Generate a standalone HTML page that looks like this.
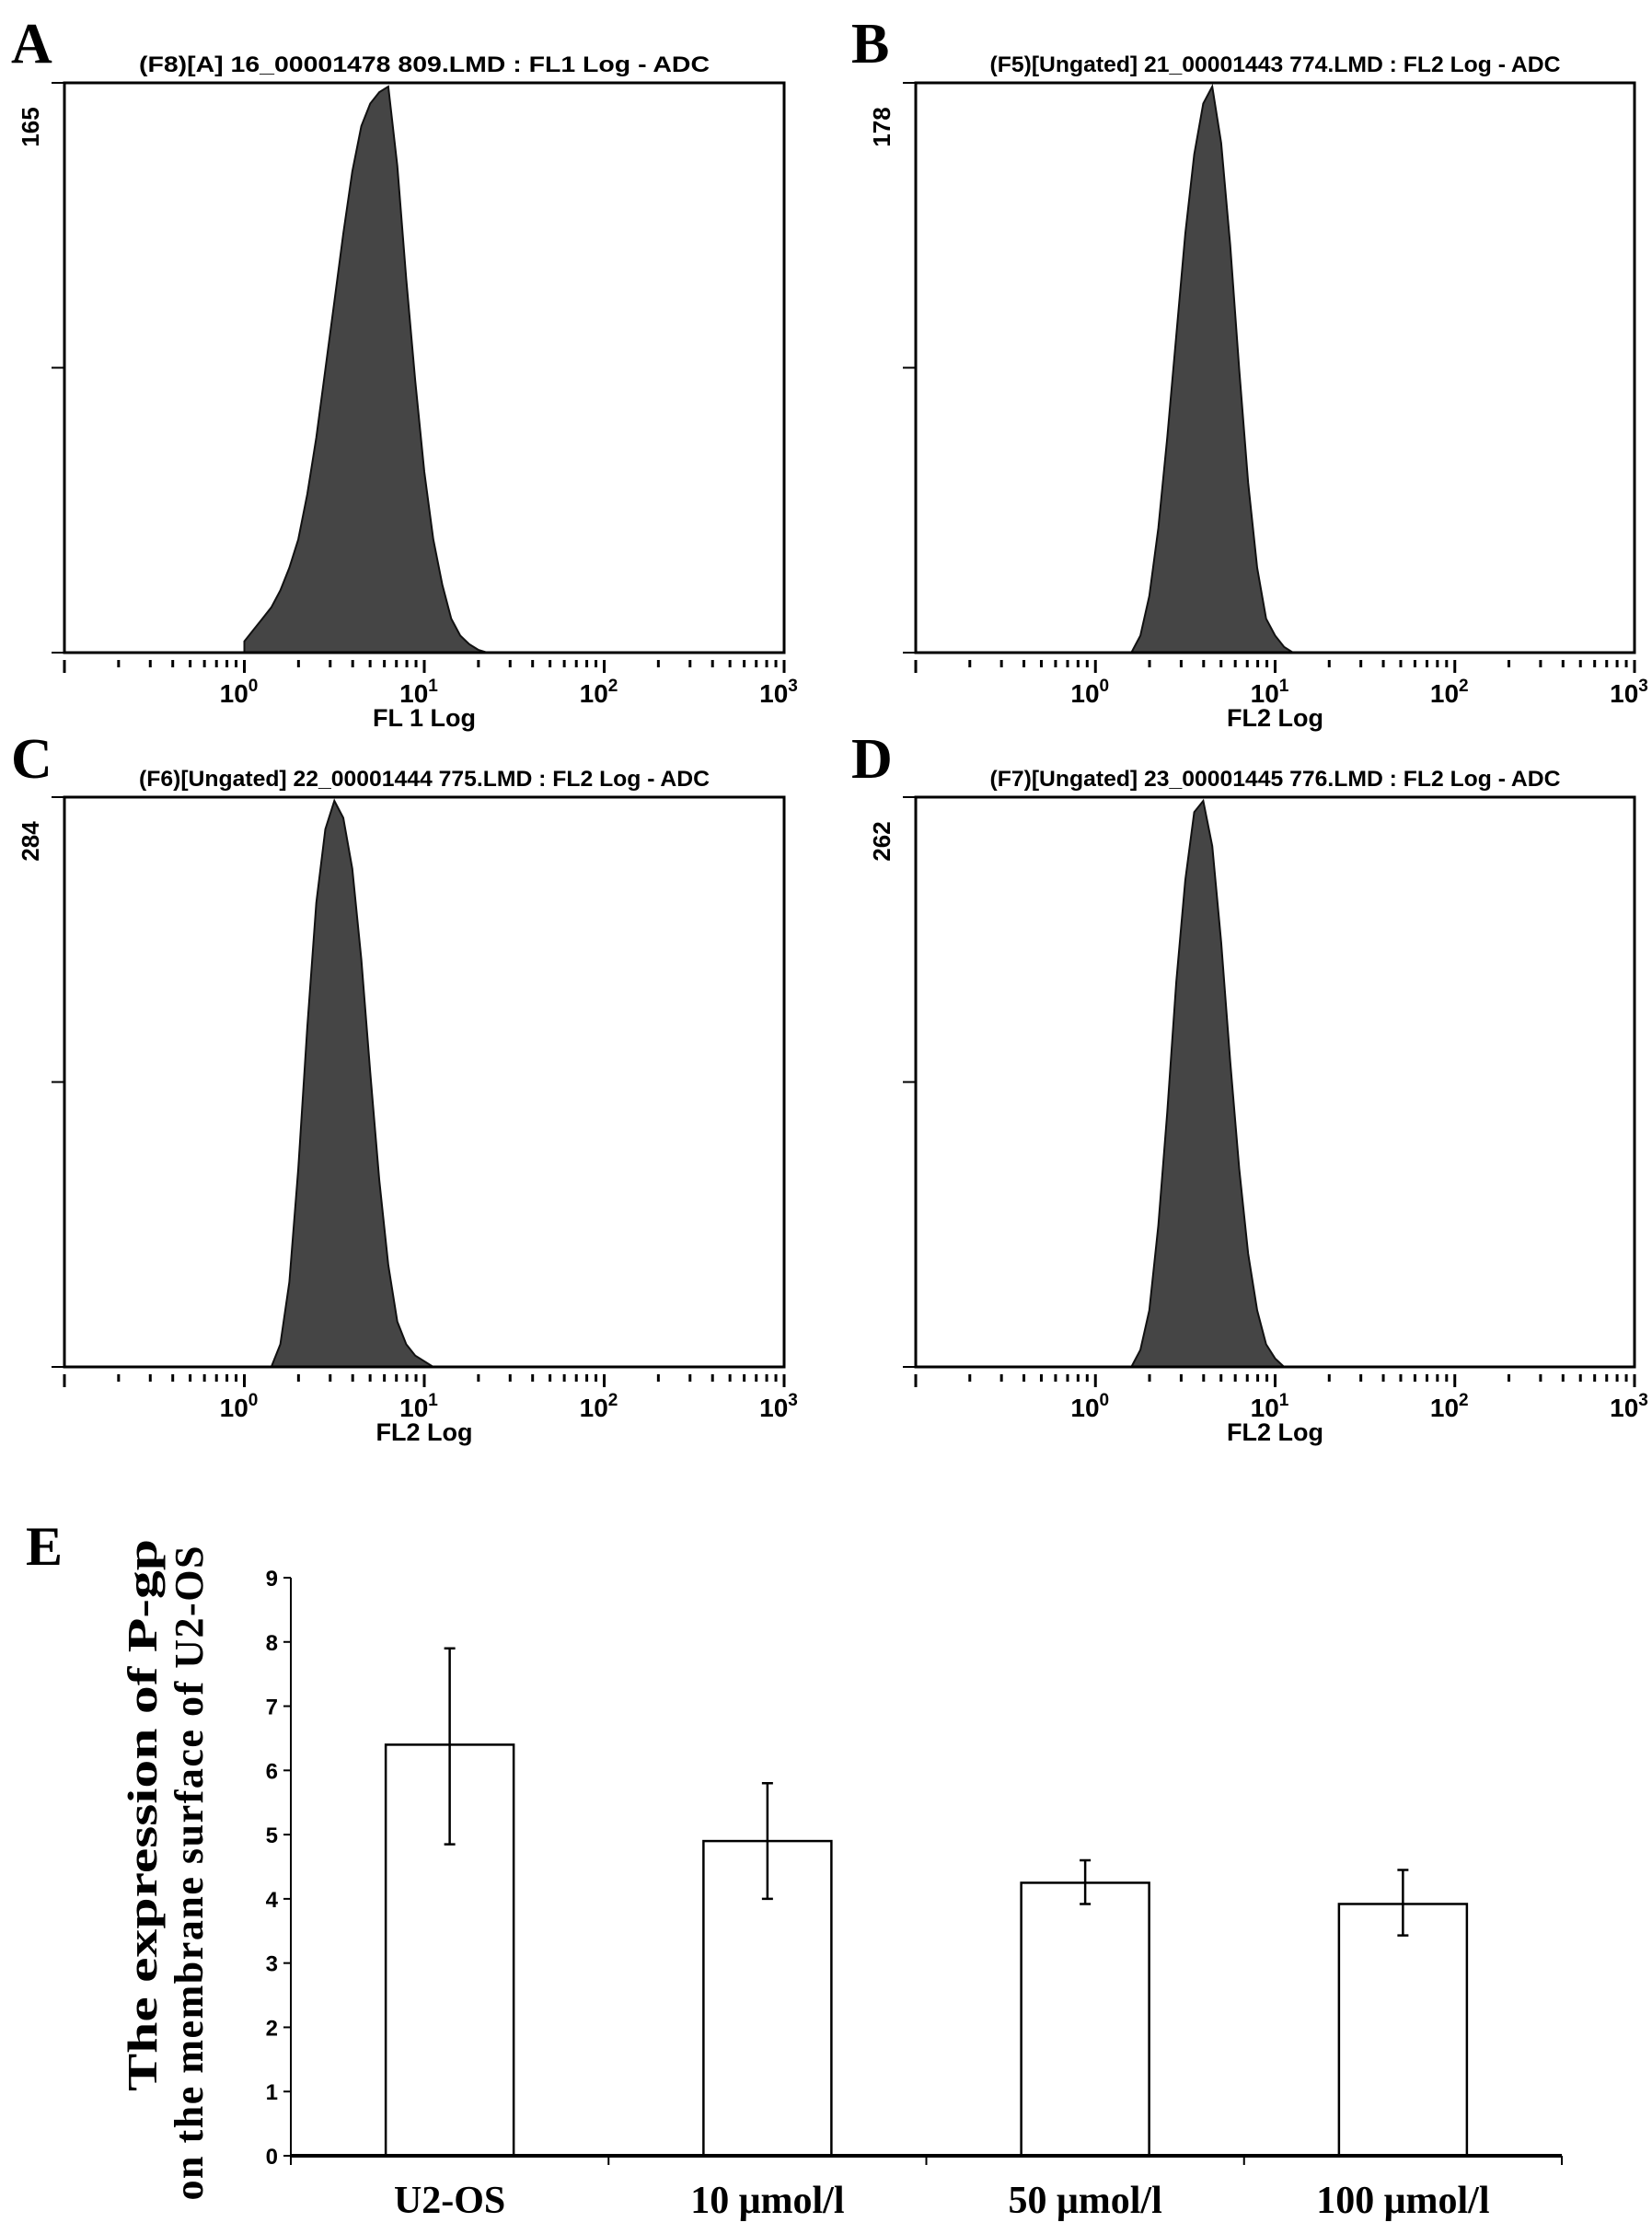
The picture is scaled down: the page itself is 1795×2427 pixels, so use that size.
<!DOCTYPE html>
<html><head><meta charset="utf-8"><style>
html,body{margin:0;padding:0;background:#fff}
svg{display:block}
text{font-family:"Liberation Sans",Arial,sans-serif}
.ser{font-family:"Liberation Serif","Times New Roman",serif;font-weight:bold}
</style></head><body>
<svg id="fig" width="1795" height="2427" viewBox="0 0 1795 2427" xmlns="http://www.w3.org/2000/svg"></svg>
<script>
// ---- histogram data (log10 fluorescence bin, relative count) ----
const histALog=[0,0.05,0.1,0.15,0.2,0.25,0.3,0.35,0.4,0.45,0.5,0.55,0.6,0.65,0.7,0.75,0.8,0.85,0.9,0.95,1.0,1.05,1.1,1.15,1.2,1.25,1.3,1.35];
const histAVal=[0.02,0.04,0.06,0.08,0.11,0.15,0.2,0.28,0.38,0.5,0.62,0.74,0.85,0.93,0.97,0.99,1.0,0.86,0.66,0.48,0.32,0.2,0.12,0.06,0.03,0.015,0.005,0];
const histBLog=[0.2,0.25,0.3,0.35,0.4,0.45,0.5,0.55,0.6,0.65,0.7,0.75,0.8,0.85,0.9,0.95,1.0,1.05,1.1];
const histBVal=[0,0.03,0.1,0.22,0.38,0.56,0.74,0.88,0.97,1.0,0.9,0.72,0.5,0.3,0.15,0.06,0.03,0.01,0];
const histCLog=[0.15,0.2,0.25,0.3,0.35,0.4,0.45,0.5,0.55,0.6,0.65,0.7,0.75,0.8,0.85,0.9,0.95,1.0,1.05];
const histCVal=[0,0.04,0.15,0.35,0.6,0.82,0.95,1.0,0.97,0.88,0.72,0.52,0.33,0.18,0.08,0.04,0.02,0.01,0];
const histDLog=[0.2,0.25,0.3,0.35,0.4,0.45,0.5,0.55,0.6,0.65,0.7,0.75,0.8,0.85,0.9,0.95,1.0,1.05];
const histDVal=[0,0.03,0.1,0.25,0.45,0.68,0.86,0.98,1.0,0.92,0.75,0.54,0.35,0.2,0.1,0.04,0.015,0];
const histMaxLabels=["165","178","284","262"];
const histTitles=["(F8)[A] 16_00001478 809.LMD : FL1 Log - ADC","(F5)[Ungated] 21_00001443 774.LMD : FL2 Log - ADC","(F6)[Ungated] 22_00001444 775.LMD : FL2 Log - ADC","(F7)[Ungated] 23_00001445 776.LMD : FL2 Log - ADC"];
const histXTitles=["FL 1 Log","FL2 Log","FL2 Log","FL2 Log"];
const decadeLabels=["0","1","2","3"];
// ---- bar chart data ----
const barCats=["U2-OS","10 μmol/l","50 μmol/l","100 μmol/l"];
const barVals=[6.4,4.9,4.25,3.92];
const barErrLo=[4.85,4.0,3.92,3.43];
const barErrHi=[7.9,5.8,4.6,4.45];
const barTicks=[0,1,2,3,4,5,6,7,8,9];

const NS="http://www.w3.org/2000/svg";
const svg=document.getElementById('fig');
function mk(tag,attrs,parent){const e=document.createElementNS(NS,tag);for(const k in attrs)e.setAttribute(k,attrs[k]);(parent||svg).appendChild(e);return e;}

const panels=[
 {letter:"A",L:70,R:852,T:90,B:709,lx:12,ly:68,logs:histALog,vals:histAVal},
 {letter:"B",L:995,R:1776,T:90,B:709,lx:925,ly:68,logs:histBLog,vals:histBVal},
 {letter:"C",L:70,R:852,T:866,B:1485,lx:12,ly:845,logs:histCLog,vals:histCVal},
 {letter:"D",L:995,R:1776,T:866,B:1485,lx:925,ly:845,logs:histDLog,vals:histDVal}
];
panels.forEach((p,i)=>{
  const g=mk('g',{});
  
  
  const xs=v=>p.L+(v+1)/4*(p.R-p.L);
  const ys=v=>p.B-v*(p.B-p.T-4);
  const lt=mk('text',{x:p.lx,y:p.ly,'font-size':62,'class':'ser'},g);lt.textContent=p.letter;
  
  
  const tt=mk('text',{x:(p.L+p.R)/2,y:p.T-12,'font-size':24,'font-weight':'bold','text-anchor':'middle',textLength:620,lengthAdjust:'spacingAndGlyphs'},g);tt.textContent=histTitles[i];
  
  
  let d='M'+xs(p.logs[0])+','+p.B;
  p.logs.forEach((l,j)=>{d+=' L'+xs(l).toFixed(1)+','+ys(p.vals[j]).toFixed(1);});
  d+=' L'+xs(p.logs[p.logs.length-1])+','+p.B+' Z';
  const hp=mk('path',{d:d,fill:'#454545',stroke:'#111','stroke-width':2},g);
  
  
  const box=mk('rect',{x:p.L,y:p.T,width:p.R-p.L,height:p.B-p.T,fill:'none',stroke:'#000','stroke-width':3},g);
  
  
  [0,0.5,1].forEach(f=>{mk('line',{x1:p.L-14,x2:p.L,y1:p.B-f*(p.B-p.T),y2:p.B-f*(p.B-p.T),stroke:'#000','stroke-width':2},g);});
  const yl=mk('text',{transform:`translate(${p.L-28},${p.T+48}) rotate(-90)`,'font-size':26,'font-weight':'bold','text-anchor':'middle'},g);yl.textContent=histMaxLabels[i];
  
  
  for(let dec=-1;dec<3;dec++){for(let m=1;m<10;m++){const x=xs(dec+Math.log10(m));mk('line',{x1:x,x2:x,y1:p.B+8,y2:p.B+(m==1?22:16),stroke:'#000','stroke-width':3},g);}}
  mk('line',{x1:p.R,x2:p.R,y1:p.B+8,y2:p.B+22,stroke:'#000','stroke-width':3},g);
  decadeLabels.forEach((s,k)=>{const x=xs(k);const t=mk('text',{x:x-6,y:p.B+54,'font-size':28,'font-weight':'bold','text-anchor':'middle'},g);t.textContent='10';const s2=mk('tspan',{dy:-12,'font-size':19},t);s2.textContent=s;
    
    });
  const xt=mk('text',{x:xs(1),y:p.B+80,'font-size':27,'font-weight':'bold','text-anchor':'middle'},g);xt.textContent=histXTitles[i];
  
  
});

// ---- bar chart E ----
const E={L:316,R:1697,T:1714,B:2342};
const ge=mk('g',{});


const eL=mk('text',{x:28,y:1700,'font-size':60,'class':'ser'},ge);eL.textContent='E';


const yv=v=>E.B-v/9*(E.B-E.T);
const band=(E.R-E.L)/barCats.length;
const xc=i=>E.L+band*(i+0.5);
mk('line',{x1:E.L,x2:E.L,y1:E.T,y2:E.B,stroke:'#000','stroke-width':2},ge);
barTicks.forEach(t=>{mk('line',{x1:E.L-8,x2:E.L,y1:yv(t),y2:yv(t),stroke:'#000','stroke-width':2},ge);
  const tx=mk('text',{x:E.L-14,y:yv(t)+9,'font-size':24,'font-weight':'bold','text-anchor':'end'},ge);tx.textContent=t;
  
  });
barVals.forEach((v,i)=>{
  const w=139;
  const r=mk('rect',{x:xc(i)-w/2,y:yv(v),width:w,height:E.B-yv(v),fill:'#fff',stroke:'#000','stroke-width':2.5},ge);
  
  
  const eb=mk('path',{d:`M${xc(i)},${yv(barErrLo[i])}V${yv(barErrHi[i])}M${xc(i)-6},${yv(barErrLo[i])}h12M${xc(i)-6},${yv(barErrHi[i])}h12`,stroke:'#000','stroke-width':2.5,fill:'none'},ge);
  
  
  const lb=mk('text',{x:xc(i),y:2404,'font-size':42,'class':'ser','text-anchor':'middle'},ge);lb.textContent=barCats[i];
  
  
});
mk('line',{x1:E.L,x2:E.R,y1:E.B,y2:E.B,stroke:'#000','stroke-width':4},ge);
for(let i=0;i<=barCats.length;i++){mk('line',{x1:E.L+band*i,x2:E.L+band*i,y1:E.B,y2:E.B+10,stroke:'#000','stroke-width':2},ge);}
const y1=mk('text',{transform:'translate(170,1972) rotate(-90)','font-size':46,'class':'ser','text-anchor':'middle',textLength:600,lengthAdjust:'spacingAndGlyphs'},ge);y1.textContent='The expression of P-gp';


const y2=mk('text',{transform:'translate(220,2035) rotate(-90)','font-size':44,'class':'ser','text-anchor':'middle',textLength:711,lengthAdjust:'spacing'},ge);y2.textContent='on the membrane surface of U2-OS';


</script>
</body></html>
